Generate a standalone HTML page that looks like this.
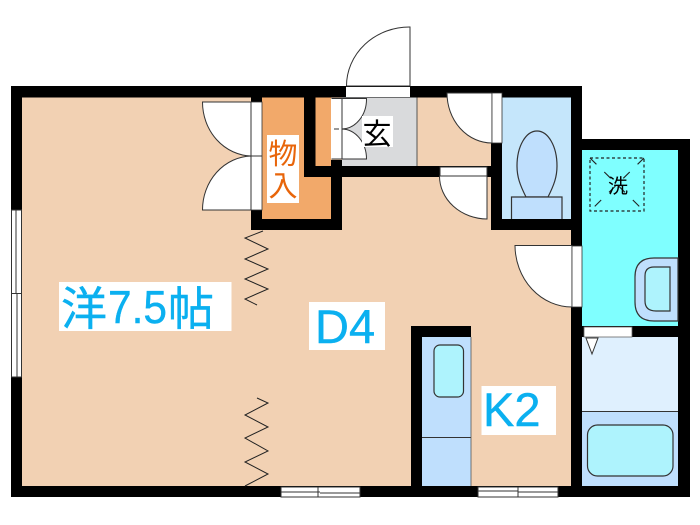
<!DOCTYPE html>
<html><head><meta charset="utf-8"><style>
html,body{margin:0;padding:0;background:#fff}
svg{display:block}
text{font-family:"Liberation Sans","Noto Sans CJK JP",sans-serif}
</style></head><body>
<svg width="700" height="525" viewBox="0 0 700 525" xmlns="http://www.w3.org/2000/svg">
<rect x="22" y="97" width="550" height="390" fill="#f2d1b3"/>
<rect x="262" y="97" width="42" height="122" fill="#f2a96a"/>
<rect x="304" y="177" width="27" height="42" fill="#f2a96a"/>
<rect x="315" y="97" width="16" height="69" fill="#f2a96a"/>
<rect x="342" y="97" width="75" height="69" fill="#d9dadc"/>
<line x1="417" y1="97" x2="417" y2="166" stroke="#555" stroke-width="1"/>
<rect x="502" y="97" width="69" height="122" fill="#c5e6fb"/>
<rect x="582" y="150" width="96" height="176" fill="#7fffff"/>
<rect x="582" y="337" width="96" height="75" fill="#dff0fe"/>
<rect x="582" y="412" width="96" height="74" fill="#bfdffd"/>
<line x1="582" y1="411.500" x2="678" y2="411.500" stroke="#333" stroke-width="1"/>
<rect x="422" y="337" width="49" height="149" fill="#bfdffd"/>
<line x1="422" y1="437.5" x2="471" y2="437.5" stroke="#333" stroke-width="1"/>
<line x1="471" y1="337" x2="471" y2="486" stroke="#555" stroke-width="0.8"/>
<g fill="#000">
<rect x="11" y="86" width="571" height="11.5"/>
<rect x="11" y="86" width="11" height="411"/>
<rect x="11" y="486" width="679" height="11"/>
<rect x="571" y="86" width="11" height="411"/>
<rect x="571" y="139" width="119" height="11"/>
<rect x="678" y="139" width="12" height="358"/>
<rect x="571" y="326" width="119" height="11"/>
<rect x="251" y="97" width="11" height="133"/>
<rect x="251" y="219" width="91" height="11"/>
<rect x="331" y="160" width="11" height="70"/>
<rect x="304" y="97" width="11.5" height="80"/>
<rect x="304" y="166" width="38" height="11"/>
<rect x="331" y="166" width="160" height="11"/>
<rect x="491" y="143" width="11" height="87"/>
<rect x="491" y="219" width="91" height="11"/>
<rect x="411" y="326" width="11" height="160"/>
<rect x="411" y="326" width="60" height="11"/>
</g>
<g stroke="#333" stroke-width="1" fill="#fff">
<rect x="11.5" y="210" width="10" height="167"/>
<line x1="16" y1="210" x2="16" y2="293"/>
<line x1="17" y1="293" x2="17" y2="377"/>
<line x1="11" y1="293.5" x2="22" y2="293.5"/>
<rect x="281" y="487" width="79" height="10"/>
<line x1="281" y1="492" x2="320" y2="492"/><line x1="320" y1="493" x2="360" y2="493"/><line x1="318" y1="487" x2="318" y2="497"/>
<rect x="478" y="487" width="80" height="10"/>
<line x1="478" y1="491" x2="518" y2="491"/><line x1="518" y1="492" x2="558" y2="492"/><line x1="518" y1="487" x2="518" y2="497"/>
<rect x="346" y="87" width="64" height="10" stroke="none"/>
<path d="M410 86V27A63 59 0 0 0 346.500 86Z"/>
<rect x="251" y="102" width="11" height="108" stroke-width="0.8"/>
<line x1="251" y1="156" x2="262" y2="156"/>
<path d="M251 102H202.500A50 54 0 0 0 251 156Z"/>
<path d="M251 210H202.500A50 54 0 0 1 251 156Z"/>
<rect x="331" y="98" width="11" height="61" stroke="none"/>
<path d="M331.500 98.500H366.500A25 30 0 0 1 342 129V98.500"/>
<path d="M331.500 159H366.500A25 30 0 0 0 342 129V159"/>
<line x1="342" y1="98" x2="342" y2="159"/>
<line x1="334" y1="129" x2="339" y2="129"/>
<rect x="440" y="167" width="47" height="9.500"/>
<path d="M487 176H439.500A48 43 0 0 0 487 219Z"/>
<path d="M492 93H447A45 50 0 0 0 492 143Z"/>
<rect x="492" y="93" width="10" height="50" stroke-width="0.8"/>
<path d="M572 245.500H515A57 62 0 0 0 572 307Z"/>
<rect x="572" y="246" width="10" height="61" stroke-width="0.8"/>
</g>
<rect x="584" y="327" width="48" height="10" fill="#fff" stroke="#666" stroke-width="0.8"/>
<path d="M586 338H598L592 354Z" fill="#fff" stroke="#333" stroke-width="1"/>
<g fill="none" stroke="#222" stroke-width="1">
<polyline points="263,231 245,238 268,249 245,259 268,269 245,279 268,289 245,299 257,305"/>
<polyline points="257,398 268,403 245,415 268,427 245,438 268,451 245,462 268,474 245,486"/>
</g>
<g fill="#bfdffd" stroke="#333" stroke-width="1.2">
<path d="M548 197C554 185 557 177 557 166C557 146 548 131 537 131C526 131 517 146 517 166C517 177 520 185 526 197Z"/>
<path d="M511.500 219V197H562V219"/>
</g>
<g fill="none" stroke="#222" stroke-width="1.2" stroke-dasharray="3 2.500">
<rect x="590" y="158" width="54" height="53"/>
</g>
<g fill="none" stroke="#222" stroke-width="1.1" stroke-dasharray="9 11">
<line x1="590" y1="158" x2="644" y2="211"/>
<line x1="644" y1="158" x2="590" y2="211"/>
</g>
<path d="M678 258H654Q635 258 635 277V302Q635 321 654 321H678Z" fill="#bfdffd" stroke="#333" stroke-width="1.2"/>
<path d="M670 267H654Q645 267 645 276V301Q645 311 656 311H670Z" fill="#aef3fd" stroke="#333" stroke-width="1.2"/>
<rect x="434" y="345" width="29.500" height="52" rx="6" fill="#aef3fd" stroke="#333" stroke-width="1.2"/>
<rect x="587.500" y="425" width="85.500" height="51" rx="10" fill="#aef3fd" stroke="#333" stroke-width="1.2"/>
<rect x="59" y="282" width="172.500" height="49" fill="#fff"/>
<rect x="309" y="302" width="76" height="48" fill="#fff"/>
<rect x="481.500" y="386" width="74.500" height="49" fill="#fff"/>
<rect x="267" y="135" width="32" height="68" fill="#fff"/>
<rect x="362" y="116" width="31" height="31" fill="#fff"/>
<g fill="#0bb0f0" font-size="46" stroke="#0bb0f0" stroke-width="0.4">
<text x="61" y="325">洋</text>
<text x="108" y="323" textLength="59" lengthAdjust="spacingAndGlyphs">7.5</text>
<text x="168" y="325">帖</text>
<text x="315" y="343" font-size="47">D4</text>
<text x="483" y="426" font-size="47">K2</text>
</g>
<g fill="#e8650a" font-size="29" text-anchor="middle">
<text x="283" y="164">物</text>
<text x="283" y="196">入</text>
</g>
<text x="377" y="144" font-size="29" text-anchor="middle" fill="#000">玄</text>
<text x="618" y="193" font-size="20" text-anchor="middle" fill="#000">洗</text>
</svg>
</body></html>
